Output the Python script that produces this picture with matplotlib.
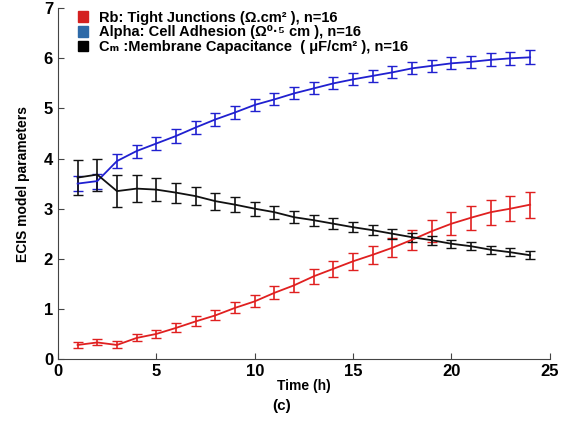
import matplotlib
matplotlib.use("Agg")
import matplotlib.pyplot as plt
import numpy as np
from matplotlib.patches import Patch

hours = np.arange(1, 25)

rb = [0.28, 0.33, 0.28, 0.42, 0.50, 0.62, 0.75, 0.87, 1.02, 1.15, 1.32, 1.47,
      1.65, 1.80, 1.95, 2.08, 2.22, 2.38, 2.55, 2.70, 2.82, 2.93, 3.00, 3.08]
rb_err = [0.06, 0.06, 0.07, 0.07, 0.08, 0.09, 0.10, 0.10, 0.11, 0.12, 0.13, 0.14,
          0.15, 0.16, 0.17, 0.18, 0.19, 0.20, 0.22, 0.23, 0.24, 0.25, 0.25, 0.26]

alpha = [3.50, 3.55, 3.95, 4.15, 4.30, 4.45, 4.62, 4.78, 4.92, 5.07, 5.18, 5.30,
         5.40, 5.50, 5.58, 5.65, 5.72, 5.80, 5.85, 5.90, 5.93, 5.97, 6.00, 6.02]
alpha_err = [0.15, 0.15, 0.14, 0.13, 0.13, 0.13, 0.13, 0.13, 0.13, 0.12, 0.12, 0.12,
             0.12, 0.12, 0.12, 0.12, 0.12, 0.12, 0.12, 0.12, 0.12, 0.13, 0.13, 0.14]

cm = [3.62, 3.68, 3.35, 3.40, 3.38, 3.32, 3.25, 3.15, 3.08, 3.00, 2.93, 2.83,
      2.77, 2.70, 2.63, 2.57, 2.50, 2.43, 2.37, 2.30, 2.25, 2.18, 2.13, 2.07]
cm_err = [0.35, 0.32, 0.32, 0.27, 0.23, 0.20, 0.18, 0.17, 0.15, 0.14, 0.13, 0.12,
          0.11, 0.11, 0.10, 0.10, 0.10, 0.09, 0.09, 0.08, 0.08, 0.08, 0.08, 0.08]

legend_labels = ["Rb: Tight Junctions (Ω.cm² ), n=16",
                 "Alpha: Cell Adhesion (Ω⁰·⁵ cm ), n=16",
                 "Cₘ :Membrane Capacitance  ( μF/cm² ), n=16"]

plt.rcParams['font.family'] = ['Liberation Sans', 'DejaVu Sans']
plt.rcParams['font.weight'] = 'bold'

fig = plt.figure(figsize=(5.68, 4.32), dpi=100)
ax = fig.add_axes([0.102, 0.169, 0.866, 0.812])

ax.errorbar(hours, rb, yerr=rb_err, color='#e02020', lw=1.3, capsize=3.5, elinewidth=1.2)
ax.errorbar(hours, alpha, yerr=alpha_err, color='#2020d0', lw=1.3, capsize=3.5, elinewidth=1.2)
ax.errorbar(hours, cm, yerr=cm_err, color='#111111', lw=1.3, capsize=3.5, elinewidth=1.2)

ax.set_xlim(0, 25)
ax.set_ylim(0, 7)
ax.set_xticks([0, 5, 10, 15, 20, 25])
ax.set_yticks(range(8))
ax.tick_params(direction='in', labelsize=12, length=4, color='#444444')
for lab in ax.get_xticklabels() + ax.get_yticklabels():
    lab.set_fontweight('bold')
ax.spines['top'].set_visible(False)
ax.spines['right'].set_visible(False)
ax.spines['left'].set_color('#444444')
ax.spines['bottom'].set_color('#444444')

ax.set_xlabel('Time (h)', fontsize=10, fontweight='bold', labelpad=0)
ax.set_ylabel('ECIS model parameters', fontsize=10, fontweight='bold', labelpad=10)

handles = [Patch(color='#d42020'), Patch(color='#2e6aa8'), Patch(color='black')]
ax.legend(handles, legend_labels, loc='upper left', bbox_to_anchor=(0.022, 1.018),
          frameon=False, handlelength=0.75, handleheight=0.75,
          handletextpad=0.75, labelspacing=0.05, borderaxespad=0.2,
          prop={'weight': 'bold', 'size': 10.5})

fig.text(0.495, 0.052, '(c)', fontsize=11, fontweight='bold', ha='center')

fig.savefig('out.png', dpi=100)
